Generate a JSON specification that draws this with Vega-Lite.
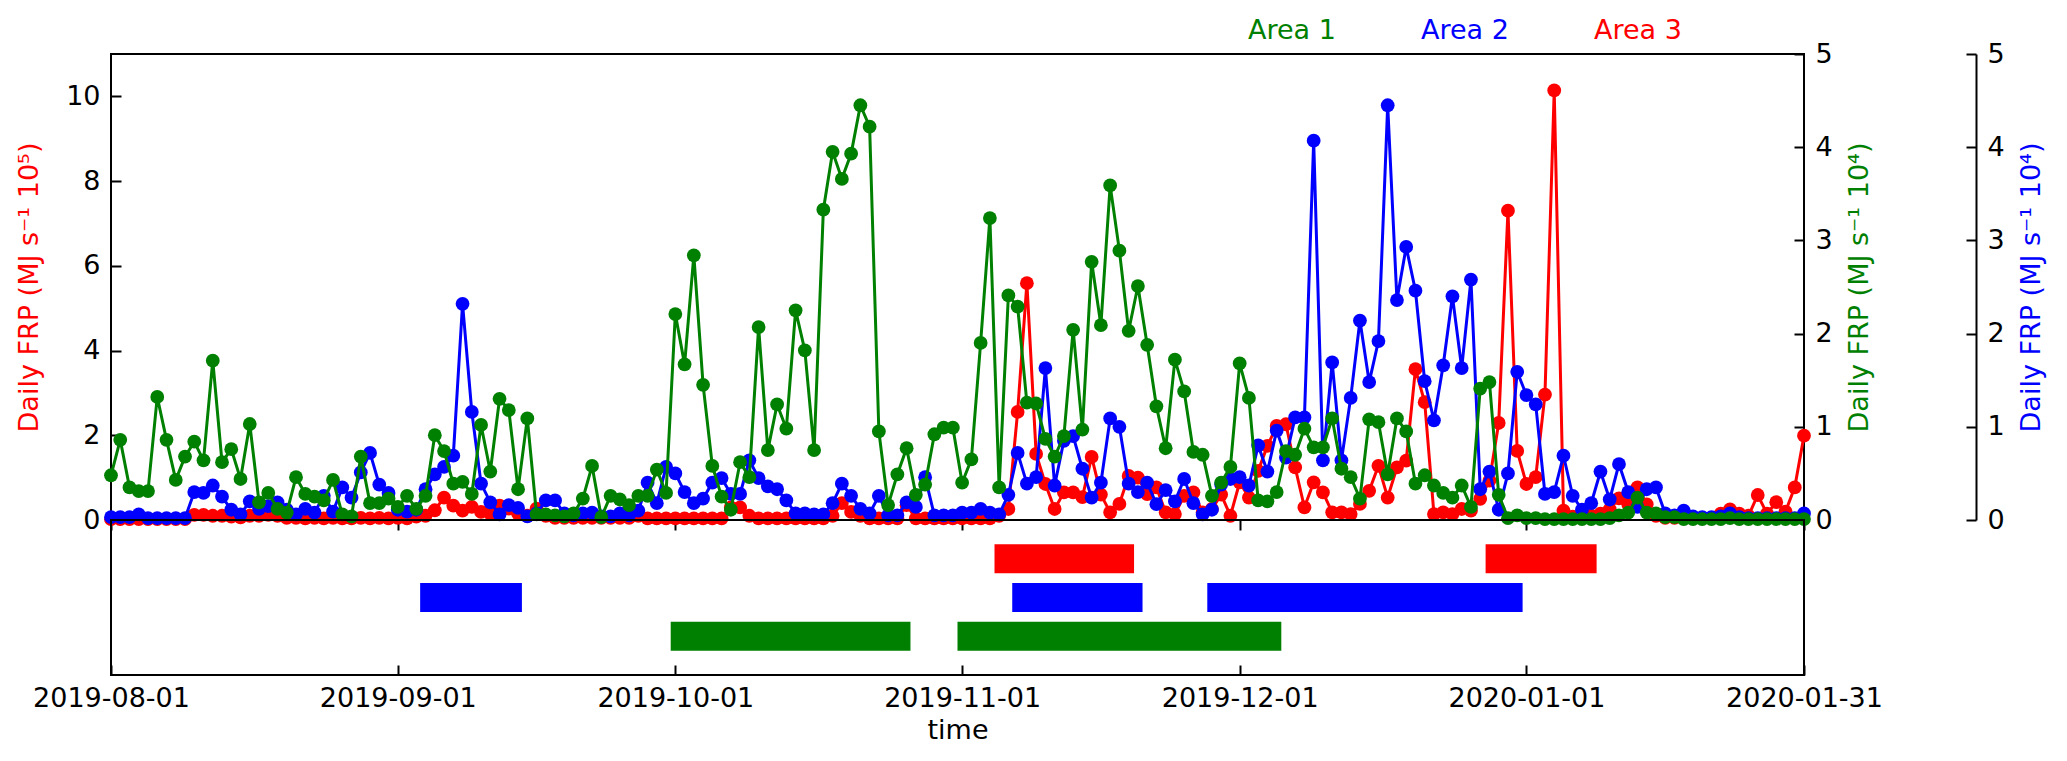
{
  "$schema": "https://vega.github.io/schema/vega-lite/v6.json",
  "background": "white",
  "padding": {"left": 14, "top": 17, "right": 5, "bottom": 5},
  "bounds": "flush",
  "spacing": 0,
  "datasets": {
    "frp": [
      {"date": "2019-08-01", "area1": 0.48, "area2": 0.03, "area3": 0.02},
      {"date": "2019-08-02", "area1": 0.86, "area2": 0.03, "area3": 0.02},
      {"date": "2019-08-03", "area1": 0.35, "area2": 0.03, "area3": 0.02},
      {"date": "2019-08-04", "area1": 0.31, "area2": 0.06, "area3": 0.02},
      {"date": "2019-08-05", "area1": 0.31, "area2": 0.02, "area3": 0.02},
      {"date": "2019-08-06", "area1": 1.32, "area2": 0.02, "area3": 0.02},
      {"date": "2019-08-07", "area1": 0.86, "area2": 0.02, "area3": 0.02},
      {"date": "2019-08-08", "area1": 0.43, "area2": 0.02, "area3": 0.02},
      {"date": "2019-08-09", "area1": 0.68, "area2": 0.02, "area3": 0.02},
      {"date": "2019-08-10", "area1": 0.84, "area2": 0.30, "area3": 0.12},
      {"date": "2019-08-11", "area1": 0.64, "area2": 0.29, "area3": 0.12},
      {"date": "2019-08-12", "area1": 1.71, "area2": 0.37, "area3": 0.10},
      {"date": "2019-08-13", "area1": 0.62, "area2": 0.25, "area3": 0.10},
      {"date": "2019-08-14", "area1": 0.76, "area2": 0.11, "area3": 0.08},
      {"date": "2019-08-15", "area1": 0.44, "area2": 0.06, "area3": 0.06},
      {"date": "2019-08-16", "area1": 1.03, "area2": 0.20, "area3": 0.10},
      {"date": "2019-08-17", "area1": 0.19, "area2": 0.12, "area3": 0.10},
      {"date": "2019-08-18", "area1": 0.29, "area2": 0.15, "area3": 0.12},
      {"date": "2019-08-19", "area1": 0.12, "area2": 0.19, "area3": 0.10},
      {"date": "2019-08-20", "area1": 0.08, "area2": 0.11, "area3": 0.05},
      {"date": "2019-08-21", "area1": 0.46, "area2": 0.06, "area3": 0.05},
      {"date": "2019-08-22", "area1": 0.28, "area2": 0.12, "area3": 0.04},
      {"date": "2019-08-23", "area1": 0.25, "area2": 0.08, "area3": 0.05},
      {"date": "2019-08-24", "area1": 0.21, "area2": 0.26, "area3": 0.04},
      {"date": "2019-08-25", "area1": 0.43, "area2": 0.09, "area3": 0.05},
      {"date": "2019-08-26", "area1": 0.06, "area2": 0.35, "area3": 0.04},
      {"date": "2019-08-27", "area1": 0.04, "area2": 0.24, "area3": 0.04},
      {"date": "2019-08-28", "area1": 0.68, "area2": 0.51, "area3": 0.05},
      {"date": "2019-08-29", "area1": 0.18, "area2": 0.72, "area3": 0.04},
      {"date": "2019-08-30", "area1": 0.18, "area2": 0.38, "area3": 0.05},
      {"date": "2019-08-31", "area1": 0.23, "area2": 0.29, "area3": 0.04},
      {"date": "2019-09-01", "area1": 0.14, "area2": 0.11, "area3": 0.05},
      {"date": "2019-09-02", "area1": 0.26, "area2": 0.09, "area3": 0.04},
      {"date": "2019-09-03", "area1": 0.12, "area2": 0.11, "area3": 0.08},
      {"date": "2019-09-04", "area1": 0.26, "area2": 0.33, "area3": 0.10},
      {"date": "2019-09-05", "area1": 0.91, "area2": 0.49, "area3": 0.23},
      {"date": "2019-09-06", "area1": 0.74, "area2": 0.57, "area3": 0.53},
      {"date": "2019-09-07", "area1": 0.39, "area2": 0.69, "area3": 0.34},
      {"date": "2019-09-08", "area1": 0.41, "area2": 2.32, "area3": 0.22},
      {"date": "2019-09-09", "area1": 0.28, "area2": 1.16, "area3": 0.31},
      {"date": "2019-09-10", "area1": 1.02, "area2": 0.39, "area3": 0.19},
      {"date": "2019-09-11", "area1": 0.52, "area2": 0.19, "area3": 0.15},
      {"date": "2019-09-12", "area1": 1.30, "area2": 0.06, "area3": 0.34},
      {"date": "2019-09-13", "area1": 1.18, "area2": 0.16, "area3": 0.27},
      {"date": "2019-09-14", "area1": 0.33, "area2": 0.13, "area3": 0.15},
      {"date": "2019-09-15", "area1": 1.09, "area2": 0.04, "area3": 0.10},
      {"date": "2019-09-16", "area1": 0.06, "area2": 0.07, "area3": 0.27},
      {"date": "2019-09-17", "area1": 0.06, "area2": 0.21, "area3": 0.10},
      {"date": "2019-09-18", "area1": 0.05, "area2": 0.21, "area3": 0.05},
      {"date": "2019-09-19", "area1": 0.04, "area2": 0.07, "area3": 0.05},
      {"date": "2019-09-20", "area1": 0.07, "area2": 0.05, "area3": 0.05},
      {"date": "2019-09-21", "area1": 0.23, "area2": 0.07, "area3": 0.05},
      {"date": "2019-09-22", "area1": 0.58, "area2": 0.08, "area3": 0.05},
      {"date": "2019-09-23", "area1": 0.03, "area2": 0.04, "area3": 0.05},
      {"date": "2019-09-24", "area1": 0.26, "area2": 0.04, "area3": 0.05},
      {"date": "2019-09-25", "area1": 0.22, "area2": 0.07, "area3": 0.05},
      {"date": "2019-09-26", "area1": 0.16, "area2": 0.05, "area3": 0.05},
      {"date": "2019-09-27", "area1": 0.26, "area2": 0.10, "area3": 0.10},
      {"date": "2019-09-28", "area1": 0.26, "area2": 0.40, "area3": 0.04},
      {"date": "2019-09-29", "area1": 0.54, "area2": 0.18, "area3": 0.04},
      {"date": "2019-09-30", "area1": 0.29, "area2": 0.57, "area3": 0.04},
      {"date": "2019-10-01", "area1": 2.21, "area2": 0.50, "area3": 0.04},
      {"date": "2019-10-02", "area1": 1.67, "area2": 0.30, "area3": 0.04},
      {"date": "2019-10-03", "area1": 2.84, "area2": 0.18, "area3": 0.04},
      {"date": "2019-10-04", "area1": 1.45, "area2": 0.23, "area3": 0.04},
      {"date": "2019-10-05", "area1": 0.58, "area2": 0.40, "area3": 0.04},
      {"date": "2019-10-06", "area1": 0.25, "area2": 0.45, "area3": 0.04},
      {"date": "2019-10-07", "area1": 0.11, "area2": 0.28, "area3": 0.30},
      {"date": "2019-10-08", "area1": 0.62, "area2": 0.28, "area3": 0.30},
      {"date": "2019-10-09", "area1": 0.46, "area2": 0.64, "area3": 0.10},
      {"date": "2019-10-10", "area1": 2.07, "area2": 0.45, "area3": 0.04},
      {"date": "2019-10-11", "area1": 0.75, "area2": 0.36, "area3": 0.04},
      {"date": "2019-10-12", "area1": 1.24, "area2": 0.33, "area3": 0.04},
      {"date": "2019-10-13", "area1": 0.98, "area2": 0.21, "area3": 0.04},
      {"date": "2019-10-14", "area1": 2.25, "area2": 0.07, "area3": 0.04},
      {"date": "2019-10-15", "area1": 1.82, "area2": 0.07, "area3": 0.04},
      {"date": "2019-10-16", "area1": 0.75, "area2": 0.06, "area3": 0.04},
      {"date": "2019-10-17", "area1": 3.33, "area2": 0.06, "area3": 0.04},
      {"date": "2019-10-18", "area1": 3.95, "area2": 0.18, "area3": 0.10},
      {"date": "2019-10-19", "area1": 3.66, "area2": 0.39, "area3": 0.40},
      {"date": "2019-10-20", "area1": 3.93, "area2": 0.26, "area3": 0.19},
      {"date": "2019-10-21", "area1": 4.45, "area2": 0.12, "area3": 0.10},
      {"date": "2019-10-22", "area1": 4.22, "area2": 0.07, "area3": 0.04},
      {"date": "2019-10-23", "area1": 0.95, "area2": 0.26, "area3": 0.04},
      {"date": "2019-10-24", "area1": 0.16, "area2": 0.05, "area3": 0.04},
      {"date": "2019-10-25", "area1": 0.49, "area2": 0.05, "area3": 0.04},
      {"date": "2019-10-26", "area1": 0.77, "area2": 0.19, "area3": 0.35},
      {"date": "2019-10-27", "area1": 0.27, "area2": 0.14, "area3": 0.04},
      {"date": "2019-10-28", "area1": 0.38, "area2": 0.46, "area3": 0.04},
      {"date": "2019-10-29", "area1": 0.92, "area2": 0.05, "area3": 0.04},
      {"date": "2019-10-30", "area1": 0.99, "area2": 0.05, "area3": 0.04},
      {"date": "2019-10-31", "area1": 0.99, "area2": 0.05, "area3": 0.04},
      {"date": "2019-11-01", "area1": 0.40, "area2": 0.08, "area3": 0.04},
      {"date": "2019-11-02", "area1": 0.65, "area2": 0.08, "area3": 0.04},
      {"date": "2019-11-03", "area1": 1.90, "area2": 0.12, "area3": 0.04},
      {"date": "2019-11-04", "area1": 3.24, "area2": 0.08, "area3": 0.04},
      {"date": "2019-11-05", "area1": 0.35, "area2": 0.06, "area3": 0.10},
      {"date": "2019-11-06", "area1": 2.41, "area2": 0.27, "area3": 0.26},
      {"date": "2019-11-07", "area1": 2.29, "area2": 0.72, "area3": 2.55},
      {"date": "2019-11-08", "area1": 1.26, "area2": 0.39, "area3": 5.59},
      {"date": "2019-11-09", "area1": 1.25, "area2": 0.46, "area3": 1.56},
      {"date": "2019-11-10", "area1": 0.87, "area2": 1.63, "area3": 0.85},
      {"date": "2019-11-11", "area1": 0.68, "area2": 0.37, "area3": 0.26},
      {"date": "2019-11-12", "area1": 0.90, "area2": 0.85, "area3": 0.65},
      {"date": "2019-11-13", "area1": 2.04, "area2": 0.90, "area3": 0.65},
      {"date": "2019-11-14", "area1": 0.97, "area2": 0.55, "area3": 0.54},
      {"date": "2019-11-15", "area1": 2.77, "area2": 0.24, "area3": 1.49},
      {"date": "2019-11-16", "area1": 2.09, "area2": 0.40, "area3": 0.60},
      {"date": "2019-11-17", "area1": 3.59, "area2": 1.09, "area3": 0.18},
      {"date": "2019-11-18", "area1": 2.89, "area2": 1.00, "area3": 0.38},
      {"date": "2019-11-19", "area1": 2.03, "area2": 0.39, "area3": 1.04},
      {"date": "2019-11-20", "area1": 2.51, "area2": 0.30, "area3": 1.00},
      {"date": "2019-11-21", "area1": 1.88, "area2": 0.40, "area3": 0.61},
      {"date": "2019-11-22", "area1": 1.22, "area2": 0.17, "area3": 0.77},
      {"date": "2019-11-23", "area1": 0.77, "area2": 0.32, "area3": 0.18},
      {"date": "2019-11-24", "area1": 1.72, "area2": 0.20, "area3": 0.14},
      {"date": "2019-11-25", "area1": 1.38, "area2": 0.44, "area3": 0.57},
      {"date": "2019-11-26", "area1": 0.73, "area2": 0.18, "area3": 0.65},
      {"date": "2019-11-27", "area1": 0.70, "area2": 0.06, "area3": 0.18},
      {"date": "2019-11-28", "area1": 0.26, "area2": 0.11, "area3": 0.26},
      {"date": "2019-11-29", "area1": 0.40, "area2": 0.38, "area3": 0.60},
      {"date": "2019-11-30", "area1": 0.57, "area2": 0.44, "area3": 0.10},
      {"date": "2019-12-01", "area1": 1.68, "area2": 0.46, "area3": 0.89},
      {"date": "2019-12-02", "area1": 1.31, "area2": 0.37, "area3": 0.53},
      {"date": "2019-12-03", "area1": 0.21, "area2": 0.80, "area3": 1.16},
      {"date": "2019-12-04", "area1": 0.20, "area2": 0.52, "area3": 1.75},
      {"date": "2019-12-05", "area1": 0.30, "area2": 0.96, "area3": 2.22},
      {"date": "2019-12-06", "area1": 0.74, "area2": 0.67, "area3": 2.26},
      {"date": "2019-12-07", "area1": 0.70, "area2": 1.10, "area3": 1.24},
      {"date": "2019-12-08", "area1": 0.98, "area2": 1.10, "area3": 0.30},
      {"date": "2019-12-09", "area1": 0.78, "area2": 4.07, "area3": 0.89},
      {"date": "2019-12-10", "area1": 0.78, "area2": 0.64, "area3": 0.65},
      {"date": "2019-12-11", "area1": 1.09, "area2": 1.69, "area3": 0.18},
      {"date": "2019-12-12", "area1": 0.55, "area2": 0.64, "area3": 0.18},
      {"date": "2019-12-13", "area1": 0.46, "area2": 1.31, "area3": 0.14},
      {"date": "2019-12-14", "area1": 0.23, "area2": 2.14, "area3": 0.38},
      {"date": "2019-12-15", "area1": 1.08, "area2": 1.48, "area3": 0.69},
      {"date": "2019-12-16", "area1": 1.05, "area2": 1.92, "area3": 1.28},
      {"date": "2019-12-17", "area1": 0.49, "area2": 4.45, "area3": 0.53},
      {"date": "2019-12-18", "area1": 1.09, "area2": 2.36, "area3": 1.24},
      {"date": "2019-12-19", "area1": 0.95, "area2": 2.93, "area3": 1.40},
      {"date": "2019-12-20", "area1": 0.39, "area2": 2.46, "area3": 3.56},
      {"date": "2019-12-21", "area1": 0.48, "area2": 1.49, "area3": 2.78},
      {"date": "2019-12-22", "area1": 0.37, "area2": 1.07, "area3": 0.14},
      {"date": "2019-12-23", "area1": 0.29, "area2": 1.66, "area3": 0.18},
      {"date": "2019-12-24", "area1": 0.24, "area2": 2.40, "area3": 0.14},
      {"date": "2019-12-25", "area1": 0.37, "area2": 1.63, "area3": 0.26},
      {"date": "2019-12-26", "area1": 0.14, "area2": 2.58, "area3": 0.22},
      {"date": "2019-12-27", "area1": 1.41, "area2": 0.33, "area3": 0.50},
      {"date": "2019-12-28", "area1": 1.48, "area2": 0.52, "area3": 0.93},
      {"date": "2019-12-29", "area1": 0.27, "area2": 0.11, "area3": 2.29},
      {"date": "2019-12-30", "area1": 0.02, "area2": 0.50, "area3": 7.30},
      {"date": "2019-12-31", "area1": 0.05, "area2": 1.59, "area3": 1.63},
      {"date": "2020-01-01", "area1": 0.02, "area2": 1.34, "area3": 0.85},
      {"date": "2020-01-02", "area1": 0.02, "area2": 1.24, "area3": 1.01},
      {"date": "2020-01-03", "area1": 0.01, "area2": 0.28, "area3": 2.96},
      {"date": "2020-01-04", "area1": 0.01, "area2": 0.30, "area3": 10.14},
      {"date": "2020-01-05", "area1": 0.01, "area2": 0.69, "area3": 0.22},
      {"date": "2020-01-06", "area1": 0.01, "area2": 0.26, "area3": 0.08},
      {"date": "2020-01-07", "area1": 0.01, "area2": 0.11, "area3": 0.08},
      {"date": "2020-01-08", "area1": 0.01, "area2": 0.18, "area3": 0.10},
      {"date": "2020-01-09", "area1": 0.01, "area2": 0.52, "area3": 0.15},
      {"date": "2020-01-10", "area1": 0.02, "area2": 0.22, "area3": 0.25},
      {"date": "2020-01-11", "area1": 0.05, "area2": 0.60, "area3": 0.51},
      {"date": "2020-01-12", "area1": 0.08, "area2": 0.30, "area3": 0.37},
      {"date": "2020-01-13", "area1": 0.24, "area2": 0.14, "area3": 0.77},
      {"date": "2020-01-14", "area1": 0.08, "area2": 0.33, "area3": 0.37},
      {"date": "2020-01-15", "area1": 0.07, "area2": 0.35, "area3": 0.10},
      {"date": "2020-01-16", "area1": 0.03, "area2": 0.07, "area3": 0.05},
      {"date": "2020-01-17", "area1": 0.03, "area2": 0.05, "area3": 0.05},
      {"date": "2020-01-18", "area1": 0.01, "area2": 0.10, "area3": 0.05},
      {"date": "2020-01-19", "area1": 0.01, "area2": 0.04, "area3": 0.05},
      {"date": "2020-01-20", "area1": 0.01, "area2": 0.03, "area3": 0.05},
      {"date": "2020-01-21", "area1": 0.01, "area2": 0.03, "area3": 0.05},
      {"date": "2020-01-22", "area1": 0.01, "area2": 0.04, "area3": 0.15},
      {"date": "2020-01-23", "area1": 0.02, "area2": 0.07, "area3": 0.25},
      {"date": "2020-01-24", "area1": 0.01, "area2": 0.03, "area3": 0.15},
      {"date": "2020-01-25", "area1": 0.01, "area2": 0.02, "area3": 0.10},
      {"date": "2020-01-26", "area1": 0.01, "area2": 0.02, "area3": 0.59},
      {"date": "2020-01-27", "area1": 0.01, "area2": 0.02, "area3": 0.15},
      {"date": "2020-01-28", "area1": 0.01, "area2": 0.02, "area3": 0.42},
      {"date": "2020-01-29", "area1": 0.01, "area2": 0.02, "area3": 0.20},
      {"date": "2020-01-30", "area1": 0.01, "area2": 0.02, "area3": 0.77},
      {"date": "2020-01-31", "area1": 0.01, "area2": 0.07, "area3": 1.99}
    ],
    "periods": [
      {"area": "Area 3", "start": "2019-11-04T12:00:00Z", "end": "2019-11-19T14:00:00Z"},
      {"area": "Area 3", "start": "2019-12-27T14:00:00Z", "end": "2020-01-08T14:00:00Z"},
      {"area": "Area 2", "start": "2019-09-03T10:00:00Z", "end": "2019-09-14T10:00:00Z"},
      {"area": "Area 2", "start": "2019-11-06T10:00:00Z", "end": "2019-11-20T12:00:00Z"},
      {"area": "Area 2", "start": "2019-11-27T12:00:00Z", "end": "2019-12-31T14:00:00Z"},
      {"area": "Area 1", "start": "2019-09-30T12:00:00Z", "end": "2019-10-26T10:00:00Z"},
      {"area": "Area 1", "start": "2019-10-31T12:00:00Z", "end": "2019-12-05T12:00:00Z"}
    ]
  },
  "vconcat": [
    {
      "width": 1693,
      "height": 466,
      "data": {"name": "frp"},
      "encoding": {
        "x": {
          "field": "date",
          "type": "temporal",
          "scale": {
            "type": "utc",
            "domain": [
              {"year": 2019, "month": 8, "date": 1, "utc": true},
              {"year": 2020, "month": 1, "date": 31, "utc": true}
            ]
          },
          "axis": {
            "orient": "bottom",
            "labels": false,
            "domain": false,
            "title": null,
            "tickSize": 10,
            "values": [
              {"year": 2019, "month": 8, "date": 1, "utc": true},
              {"year": 2019, "month": 9, "date": 1, "utc": true},
              {"year": 2019, "month": 10, "date": 1, "utc": true},
              {"year": 2019, "month": 11, "date": 1, "utc": true},
              {"year": 2019, "month": 12, "date": 1, "utc": true},
              {"year": 2020, "month": 1, "date": 1, "utc": true},
              {"year": 2020, "month": 1, "date": 31, "utc": true}
            ]
          }
        }
      },
      "layer": [
        {
          "mark": {"type": "line", "color": "#ff0000", "strokeWidth": 3, "point": {"filled": true, "size": 190, "color": "#ff0000", "opacity": 1}},
          "encoding": {
            "y": {
              "field": "area3",
              "type": "quantitative",
              "scale": {"domain": [0, 11], "nice": false, "zero": true},
              "axis": {
                "orient": "left",
                "values": [0, 2, 4, 6, 8, 10],
                "title": "Daily FRP (MJ s⁻¹ 10⁵)",
                "titleColor": "#ff0000",
                "titlePadding": 22,
                "domain": false,
                "tickSize": -10,
                "labelPadding": 21
              }
            }
          }
        },
        {
          "mark": {"type": "line", "color": "#0000ff", "strokeWidth": 3, "point": {"filled": true, "size": 190, "color": "#0000ff", "opacity": 1}},
          "encoding": {
            "y": {
              "field": "area2",
              "type": "quantitative",
              "scale": {"domain": [0, 5], "nice": false},
              "axis": {
                "orient": "right",
                "offset": 172,
                "values": [0, 1, 2, 3, 4, 5],
                "title": "Daily FRP (MJ s⁻¹ 10⁴)",
                "titleColor": "#0000ff",
                "titleAngle": 270,
                "titleBaseline": "top",
                "titlePadding": 14,
                "domain": true,
                "tickSize": -10,
                "labelPadding": 21
              }
            }
          }
        },
        {
          "mark": {"type": "line", "color": "#008000", "strokeWidth": 3, "point": {"filled": true, "size": 190, "color": "#008000", "opacity": 1}},
          "encoding": {
            "y": {
              "field": "area1",
              "type": "quantitative",
              "scale": {"domain": [0, 5], "nice": false},
              "axis": {
                "orient": "right",
                "values": [0, 1, 2, 3, 4, 5],
                "title": "Daily FRP (MJ s⁻¹ 10⁴)",
                "titleColor": "#008000",
                "titleAngle": 270,
                "titleBaseline": "top",
                "titlePadding": 14,
                "domain": false,
                "tickSize": -10,
                "labelPadding": 21
              }
            }
          }
        }
      ],
      "resolve": {"scale": {"y": "independent"}, "axis": {"y": "independent"}}
    },
    {
      "width": 1693,
      "height": 155,
      "data": {"name": "periods"},
      "mark": {"type": "bar"},
      "encoding": {
        "x": {
          "field": "start",
          "type": "temporal",
          "scale": {
            "type": "utc",
            "domain": [
              {"year": 2019, "month": 8, "date": 1, "utc": true},
              {"year": 2020, "month": 1, "date": 31, "utc": true}
            ]
          },
          "axis": {
            "orient": "bottom",
            "labelExpr": "utcFormat(datum.value, '%Y-%m-%d')",
            "title": "time",
            "domain": false,
            "tickSize": -10,
            "labelPadding": 20,
            "titlePadding": 6,
            "values": [
              {"year": 2019, "month": 8, "date": 1, "utc": true},
              {"year": 2019, "month": 9, "date": 1, "utc": true},
              {"year": 2019, "month": 10, "date": 1, "utc": true},
              {"year": 2019, "month": 11, "date": 1, "utc": true},
              {"year": 2019, "month": 12, "date": 1, "utc": true},
              {"year": 2020, "month": 1, "date": 1, "utc": true},
              {"year": 2020, "month": 1, "date": 31, "utc": true}
            ]
          }
        },
        "x2": {"field": "end"},
        "y": {
          "field": "area",
          "type": "nominal",
          "scale": {"domain": ["Area 3", "Area 2", "Area 1"], "paddingInner": 0.25, "paddingOuter": 0.625},
          "axis": null
        },
        "color": {
          "field": "area",
          "type": "nominal",
          "scale": {"domain": ["Area 1", "Area 2", "Area 3"], "range": ["#008000", "#0000ff", "#ff0000"]},
          "legend": {
            "orient": "none",
            "legendX": 1110,
            "legendY": -37,
            "direction": "horizontal",
            "title": null,
            "symbolSize": 0,
            "symbolStrokeWidth": 0,
            "symbolOpacity": 0,
            "labelOffset": 0,
            "columnPadding": 58,
            "labelFontSize": 27,
            "labelFont": "DejaVu Sans",
            "labelLimit": 300,
            "encode": {
              "labels": {
                "update": {
                  "fill": {"signal": "datum.label === 'Area 1' ? '#008000' : datum.label === 'Area 2' ? '#0000ff' : '#ff0000'"}
                }
              }
            }
          }
        }
      }
    }
  ],
  "resolve": {"scale": {"x": "shared", "y": "independent"}},
  "config": {
    "font": "DejaVu Sans",
    "view": {"stroke": "black", "strokeWidth": 2},
    "axis": {
      "grid": false,
      "labelFont": "DejaVu Sans",
      "titleFont": "DejaVu Sans",
      "labelFontSize": 27,
      "titleFontSize": 27,
      "titleFontWeight": "normal",
      "labelColor": "black",
      "titleColor": "black",
      "tickColor": "black",
      "tickWidth": 2,
      "domainColor": "black",
      "domainWidth": 2,
      "labelFlush": false,
      "labelOverlap": false
    }
  }
}
